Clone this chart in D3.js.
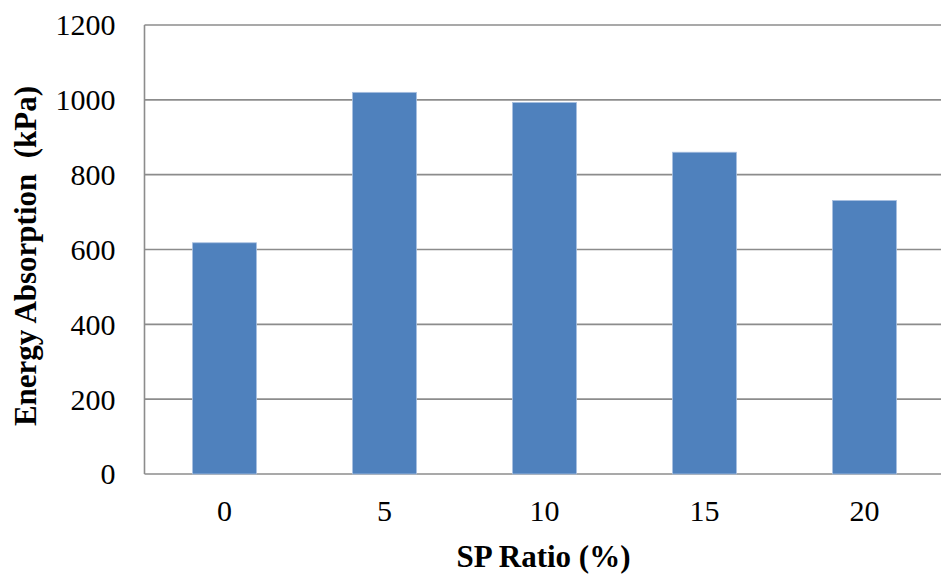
<!DOCTYPE html>
<html>
<head>
<meta charset="utf-8">
<script src="https://cdn.jsdelivr.net/npm/d3@7"></script>
<style>
  html, body { margin: 0; padding: 0; background: #fff; }
  svg { display: block; }
  text { font-family: "Liberation Serif", "Times New Roman", serif; fill: #000; }
</style>
</head>
<body>
<svg id="chart" width="941" height="578"></svg>
<script>
const categories = ["0", "5", "10", "15", "20"];
const values = [618, 1020, 993, 860, 731];
const yTicks = [0, 200, 400, 600, 800, 1000, 1200];
const xTitle = "SP Ratio (%)";
const yTitle = "Energy Absorption  (kPa)";

(function () {
const svg = d3.select("#chart");
const pLeft = 144.5, pRight = 944.5, pTop = 25, pBottom = 474;

const x = d3.scaleBand().domain(categories).range([pLeft, pRight]).paddingInner(0.6).paddingOuter(0.3);
const y = d3.scaleLinear().domain([0, 1200]).range([pBottom, pTop]);

// gridlines
svg.append("g").selectAll("line").data(yTicks).join("line")
  .attr("x1", pLeft).attr("x2", pRight)
  .attr("y1", d => y(d)).attr("y2", d => y(d))
  .attr("stroke", "#8c8c8c").attr("stroke-width", 1.6);

// left axis line
svg.append("line").attr("x1", pLeft).attr("x2", pLeft).attr("y1", pTop).attr("y2", pBottom)
  .attr("stroke", "#8c8c8c").attr("stroke-width", 1.6);

// bars
svg.append("g").selectAll("rect").data(values).join("rect")
  .attr("x", (d, i) => x(categories[i]))
  .attr("width", x.bandwidth())
  .attr("y", d => y(d))
  .attr("height", d => y(0) - y(d))
  .attr("fill", "#4f81bd")
  .attr("stroke", "#a9c0e0").attr("stroke-width", 0.8);

// y tick labels
const yAxis = d3.axisLeft(y).tickValues(yTicks).tickFormat(d3.format("d")).tickSize(0).tickPadding(29);
const ya = svg.append("g").attr("transform", `translate(${pLeft},0)`).call(yAxis);
ya.select(".domain").remove();
ya.selectAll("text").attr("font-family", "Liberation Serif").attr("font-size", 30).attr("fill", "#000").attr("dy", "0.33em");

// x tick labels
const xAxis = d3.axisBottom(x).tickSize(0).tickPadding(0);
const xa = svg.append("g").attr("transform", `translate(0,${pBottom})`).call(xAxis);
xa.select(".domain").remove();
xa.selectAll("text").attr("font-family", "Liberation Serif").attr("font-size", 30).attr("fill", "#000")
  .attr("y", 47).attr("dy", 0);

// titles
svg.append("text").attr("x", (pLeft + pRight) / 2 - 1).attr("y", 567)
  .attr("text-anchor", "middle").attr("font-weight", "bold").attr("font-size", 31).text(xTitle);

svg.append("text").attr("transform", "translate(36,256) rotate(-90)")
  .attr("text-anchor", "middle").attr("font-weight", "bold").attr("font-size", 31)
  .style("white-space", "pre").text(yTitle);
})();
</script>
</body>
</html>
